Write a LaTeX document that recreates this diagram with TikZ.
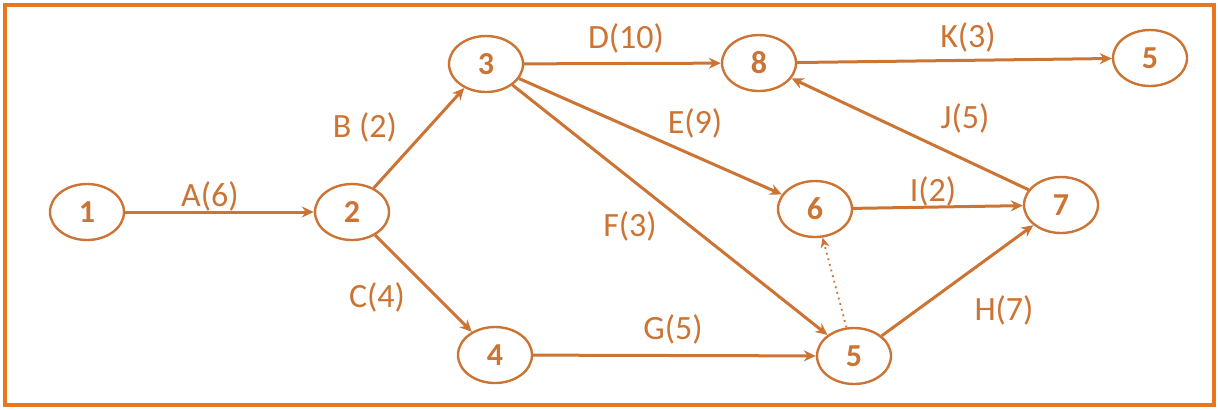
\documentclass[tikz,border=0pt]{standalone}
\usepackage{fontspec}
\setmainfont{Carlito}
\usetikzlibrary{arrows.meta,shapes.geometric}
\definecolor{netline}{RGB}{204,116,52}
\definecolor{frameorange}{RGB}{232,118,30}

\begin{document}
\begin{tikzpicture}[x=0.5pt,y=-0.5pt,
  event/.style={ellipse,draw=netline,line width=1.2pt,minimum width=37pt,minimum height=28pt,
    inner sep=0pt,text=netline,font=\fontsize{16}{19}\selectfont\bfseries},
  act/.style={draw=netline,line width=1.5pt,-{Stealth[length=6pt,width=5.5pt]}},
  dummy/.style={draw=netline,line width=0.9pt,dotted,-{Stealth[length=5pt,width=4.5pt]}},
  lbl/.style={text=netline,font=\fontsize{17}{20}\selectfont}]
 \useasboundingbox (0,0) rectangle (1218,409);
 \draw[frameorange,line width=2pt] (5,5) rectangle (1214,405);
 % events
 \node[event] (n1) at (87,212) {1};
 \node[event] (n2) at (352,212) {2};
 \node[event] (n3) at (486,64) {3};
 \node[event] (n4) at (495,355) {4};
 \node[event] (n5) at (854,356) {5};
 \node[event] (n6) at (815,209) {6};
 \node[event] (n7) at (1061,205) {7};
 \node[event] (n8) at (759,63) {8};
 \node[event] (n9) at (1150,58) {5};
 % activities
 \draw[act] (n1) -- (n2);
 \draw[act] (n2) -- (n3);
 \draw[act] (n2) -- (n4);
 \draw[act] (n3) -- (n8);
 \draw[act] (n3) -- (n6);
 \draw[act] (n3) -- (n5);
 \draw[act] (n4) -- (n5);
 \draw[act] (n5) -- (n7);
 \draw[act] (n6) -- (n7);
 \draw[act] (n7) -- (n8);
 \draw[act] (n8) -- (n9);
 \draw[dummy] (n5) -- (n6);
 % labels
 \node[lbl] (lA) at (210,196) {A(6)};
 \node[lbl] (lB) at (365,127) {B (2)};
 \node[lbl] (lC) at (377,297) {C(4)};
 \node[lbl] (lD) at (626,38) {D(10)};
 \node[lbl] (lE) at (695,123) {E(9)};
 \node[lbl] (lF) at (630,226) {F(3)};
 \node[lbl] (lG) at (673,329) {G(5)};
 \node[lbl] (lH) at (1004,310) {H(7)};
 \node[lbl] (lI) at (933,191) {I(2)};
 \node[lbl] (lJ) at (965,118) {J(5)};
 \node[lbl] (lK) at (968,37) {K(3)};
\end{tikzpicture}
\end{document}
